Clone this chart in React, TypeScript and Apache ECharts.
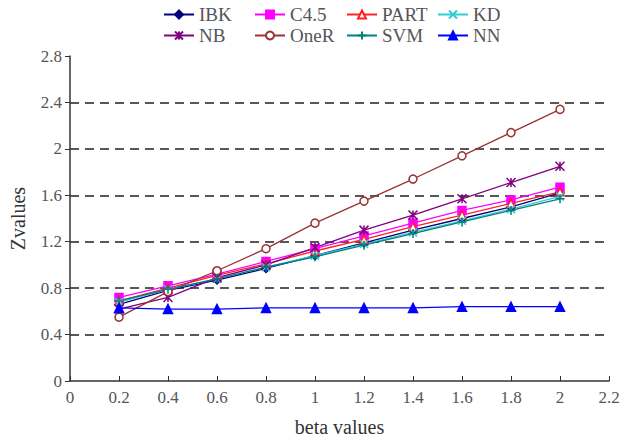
import React, { useEffect, useRef } from "react";
import * as echarts from "echarts";

const beta = [0.2, 0.4, 0.6, 0.8, 1.0, 1.2, 1.4, 1.6, 1.8, 2.0];
const ibk = [0.66, 0.78, 0.87, 0.97, 1.08, 1.19, 1.3, 1.4, 1.5, 1.62];
const c45 = [0.72, 0.82, 0.92, 1.03, 1.14, 1.25, 1.36, 1.47, 1.56, 1.67];
const part = [0.69, 0.8, 0.91, 1.01, 1.12, 1.22, 1.33, 1.43, 1.53, 1.63];
const kd = [0.68, 0.79, 0.88, 0.98, 1.08, 1.18, 1.28, 1.38, 1.48, 1.59];
const nb = [0.62, 0.72, 0.89, 1.0, 1.15, 1.3, 1.43, 1.57, 1.71, 1.85];
const oneR = [0.55, 0.77, 0.95, 1.14, 1.36, 1.55, 1.74, 1.94, 2.14, 2.34];
const svm = [0.69, 0.79, 0.88, 0.98, 1.07, 1.17, 1.27, 1.37, 1.47, 1.57];
const nn = [0.63, 0.62, 0.62, 0.63, 0.63, 0.63, 0.63, 0.64, 0.64, 0.64];

const X_PATH = "path://M0,0L10,10M10,0L0,10";
const STAR_PATH = "path://M0,0L10,10M10,0L0,10M5,0L5,10";
const PLUS_PATH = "path://M5,0L5,10M0,5L10,5";

const seriesDefs = [
  { name: "IBK", data: ibk, color: "#000080", symbol: "diamond", size: 8, fill: "#000080" },
  { name: "C4.5", data: c45, color: "#FF00FF", symbol: "rect", size: 8, fill: "#FF00FF" },
  { name: "PART", data: part, color: "#FF2020", symbol: "triangle", size: 8, fill: "#ffffff" },
  { name: "KD", data: kd, color: "#33CCCC", symbol: X_PATH, size: 8, fill: "#ffffff" },
  { name: "NB", data: nb, color: "#800080", symbol: STAR_PATH, size: 9, fill: "#ffffff" },
  { name: "OneR", data: oneR, color: "#993333", symbol: "circle", size: 8, fill: "#ffffff" },
  { name: "SVM", data: svm, color: "#008080", symbol: PLUS_PATH, size: 9, fill: "#ffffff" },
  { name: "NN", data: nn, color: "#0000FF", symbol: "triangle", size: 9, fill: "#0000FF" },
];

const legendCols = [163, 254, 346, 437];
const legendRows = [5, 26];

export default function App() {
  const ref = useRef<HTMLDivElement>(null);
  useEffect(() => {
    if (!ref.current) return;
    const chart = echarts.init(ref.current, null, { renderer: "svg" });
    const font = "Liberation Serif";
    const legends = seriesDefs.map((s, i) => ({
      data: [s.name],
      left: legendCols[i % 4],
      top: legendRows[Math.floor(i / 4)],
      padding: 0,
      itemWidth: 30,
      itemHeight: 10,
      itemGap: 0,
      textStyle: { fontFamily: font, fontSize: 19 },
    }));
    chart.setOption({
      animation: false,
      legend: legends,
      grid: { left: 70, right: 19, top: 56, bottom: 60 },
      xAxis: {
        type: "value",
        min: 0,
        max: 2.2,
        interval: 0.2,
        name: "beta values",
        nameLocation: "middle",
        nameGap: 36,
        nameTextStyle: { fontFamily: font, fontSize: 20 },
        axisLine: { onZero: false, lineStyle: { color: "#333", width: 1.5 } },
        axisTick: { inside: true, length: 5, lineStyle: { color: "#333" } },
        axisLabel: { fontFamily: font, fontSize: 17 },
        splitLine: { show: false },
      },
      yAxis: {
        type: "value",
        min: 0,
        max: 2.8,
        interval: 0.4,
        name: "Zvalues",
        nameLocation: "middle",
        nameGap: 42,
        nameTextStyle: { fontFamily: font, fontSize: 20 },
        axisLine: { show: true, lineStyle: { color: "#333", width: 1.5 } },
        axisTick: { show: true, length: 5, lineStyle: { color: "#333" } },
        axisLabel: { fontFamily: font, fontSize: 17 },
        splitLine: {
          show: true,
          showMinLine: false,
          showMaxLine: false,
          lineStyle: { color: "#222", type: [9, 6], width: 1.5 },
        },
      },
      series: seriesDefs.map((s) => ({
        name: s.name,
        type: "line",
        data: s.data.map((v, i) => [beta[i], v]),
        symbol: s.symbol,
        symbolSize: s.size,
        showAllSymbol: true,
        lineStyle: { color: s.color, width: 1.3 },
        itemStyle: { color: s.fill, borderColor: s.color, borderWidth: 1.5 },
      })),
    });
    return () => chart.dispose();
  }, []);
  return (
    <div
      ref={ref}
      style={{ position: "fixed", left: 0, top: 0, width: 628, height: 442, background: "#fff" }}
    />
  );
}
